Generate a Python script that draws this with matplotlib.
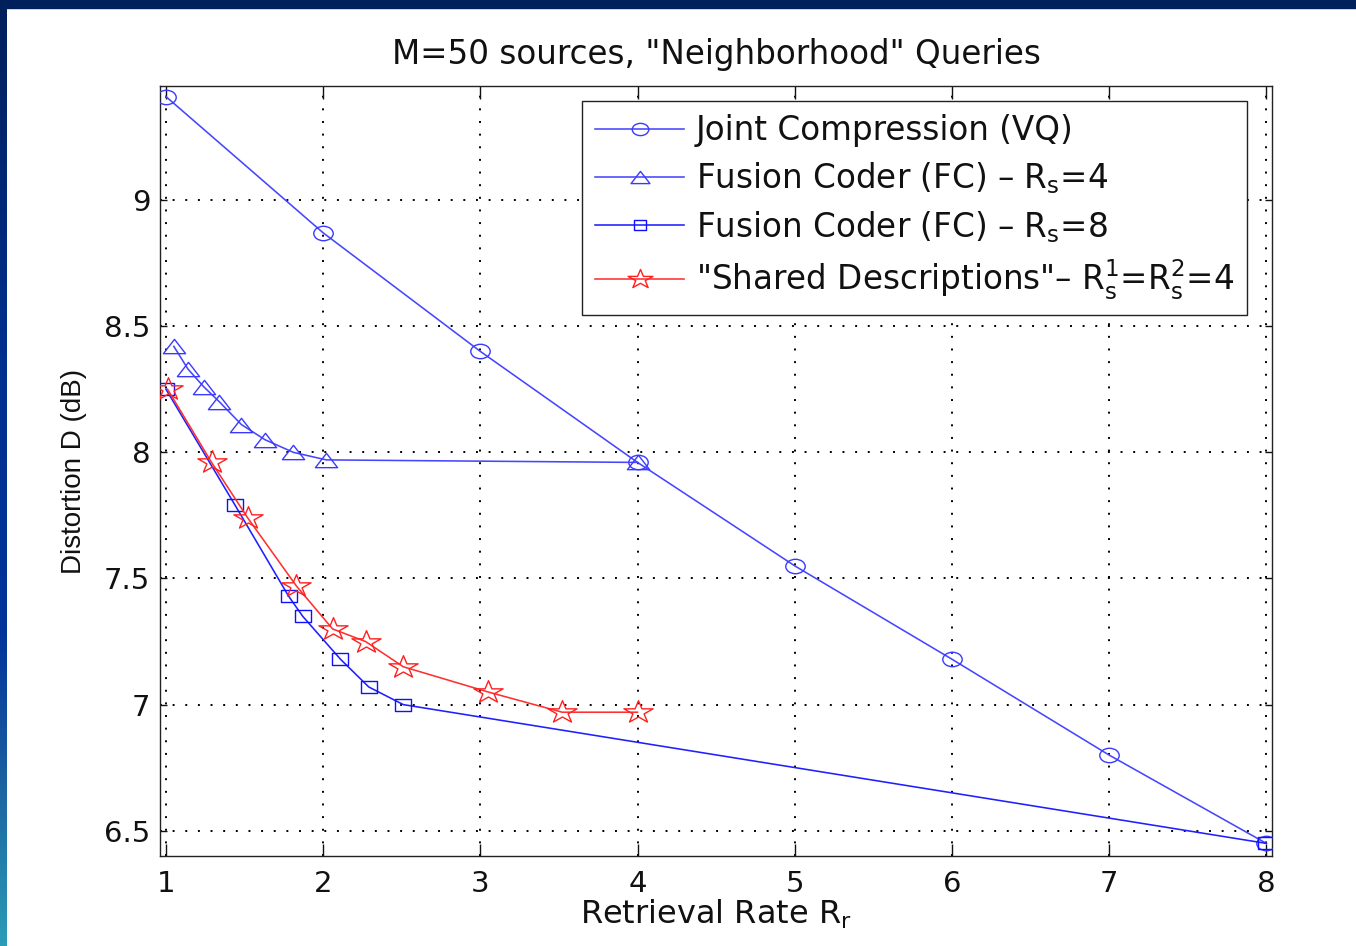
import numpy as np
import matplotlib
matplotlib.use("Agg")
import matplotlib.pyplot as plt
from matplotlib.markers import MarkerStyle
from matplotlib.transforms import Affine2D
from matplotlib.colors import LinearSegmentedColormap

# ---------------- data ----------------
vq_x = [1, 2, 3, 4, 5, 6, 7, 8]
vq_y = [9.41, 8.87, 8.40, 7.96, 7.55, 7.18, 6.80, 6.45]

fc4_x = [1.05, 1.14, 1.24, 1.34, 1.48, 1.63, 1.81, 2.02, 4.0]
fc4_y = [8.42, 8.33, 8.26, 8.20, 8.11, 8.05, 8.00, 7.97, 7.96]

fc8_x = [1.0, 1.44, 1.78, 1.87, 2.11, 2.29, 2.51, 8.0]
fc8_y = [8.25, 7.79, 7.43, 7.35, 7.18, 7.07, 7.00, 6.45]

sd_x = [1.01, 1.29, 1.52, 1.83, 2.06, 2.27, 2.51, 3.05, 3.52, 4.0]
sd_y = [8.25, 7.96, 7.74, 7.47, 7.30, 7.25, 7.15, 7.05, 6.97, 6.97]

x_ticks = [1, 2, 3, 4, 5, 6, 7, 8]
y_ticks = [6.5, 7, 7.5, 8, 8.5, 9]
y_ticklabels = ["6.5", "7", "7.5", "8", "8.5", "9"]

labels = [
    "Joint Compression (VQ)",
    "Fusion Coder (FC) \u2013 $\\mathregular{R_s}$=4",
    "Fusion Coder (FC) \u2013 $\\mathregular{R_s}$=8",
    "\"Shared Descriptions\"\u2013 $\\mathregular{R_s^1}$=$\\mathregular{R_s^2}$=4",
]
title = "M=50 sources, \"Neighborhood\" Queries"
xlabel = "Retrieval Rate $\\mathregular{R_r}$"
ylabel = "Distortion D (dB)"

# ---------------- style ----------------
plt.rcParams["font.family"] = ["DejaVu Sans"]
plt.rcParams["mathtext.fontset"] = "dejavusans"


def stretched(m, sx):
    ms = MarkerStyle(m)
    p = ms.get_path().transformed(ms.get_transform())
    return p.transformed(Affine2D().scale(sx, 1.0))


m_circle = stretched("o", 1.35)
m_tri = stretched("^", 1.55)
m_sq = stretched("s", 1.28)
m_star = stretched("*", 1.3)

fig = plt.figure(figsize=(13.56, 9.46), dpi=100, facecolor="white")

# slide border: top band and left gradient band
fig.patches.append(plt.Rectangle((0, 1 - 8 / 946), 1, 8 / 946,
                                 transform=fig.transFigure, color="#00205b", zorder=0))
bax = fig.add_axes([0, 0, 7 / 1356, 1])
cmap = LinearSegmentedColormap.from_list(
    "band", [(0.0, "#2a9cb6"), (0.18, "#1a5fa0"), (0.33, "#003399"),
             (0.6, "#003090"), (1.0, "#00205b")])
grad = np.linspace(0, 1, 256).reshape(-1, 1)
bax.imshow(grad, aspect="auto", cmap=cmap, origin="lower", extent=[0, 1, 0, 1])
bax.set_axis_off()

ax = fig.add_axes([160 / 1356, 1 - 856 / 946, 1112 / 1356, 770 / 946])

lw = 1.15
mew = 1.0
ax.plot(vq_x, vq_y, color="#4646ff", lw=lw, marker=m_circle, ms=14,
        mfc="none", mec="#3a3aff", mew=mew, label=labels[0], zorder=3)
ax.plot(fc4_x, fc4_y, color="#4646ff", lw=lw, marker=m_tri, ms=16,
        mfc="none", mec="#3a3aff", mew=mew, label=labels[1], zorder=3)
ax.plot(fc8_x, fc8_y, color="#1f1fff", lw=lw, marker=m_sq, ms=11,
        mfc="none", mec="#1010ff", mew=mew, label=labels[2], zorder=3)
ax.plot(sd_x, sd_y, color="#ff3030", lw=lw, marker=m_star, ms=21,
        mfc="none", mec="#ff2020", mew=mew, label=labels[3], zorder=4)

ax.set_xlim(0.962, 8.036)
ax.set_ylim(6.40, 9.452)
ax.set_xticks(x_ticks)
ax.set_xticklabels([str(t) for t in x_ticks])
ax.set_yticks(y_ticks)
ax.set_yticklabels(y_ticklabels)

ax.grid(True, color="black", linestyle=(0, (1, 5.5)), linewidth=1.4)
ax.set_axisbelow(True)

for s in ax.spines.values():
    s.set_linewidth(1.0)
    s.set_color("#222222")

ax.tick_params(axis="x", which="both", direction="in", top=True, bottom=True,
               length=9, width=1.0, pad=10, labelsize=21, colors="#111111")
ax.tick_params(axis="y", which="both", direction="in", left=True, right=True,
               length=5, width=1.0, pad=7, labelsize=21, colors="#111111")

ax.set_title(title, fontsize=23.5, pad=16, color="#111111")
ax.set_xlabel(xlabel, fontsize=23, labelpad=0, color="#111111")
ax.set_ylabel(ylabel, fontsize=20, labelpad=12, color="#111111",
              family=["Liberation Sans", "DejaVu Sans"])

leg = ax.legend(loc="upper right", bbox_to_anchor=(0.9775, 0.9805),
                borderaxespad=0, fontsize=23.5, frameon=True, fancybox=False,
                edgecolor="#222222", framealpha=1, handlelength=2.75,
                handletextpad=0.35, labelspacing=0.4, borderpad=0.4,
                markerscale=0.85)
leg.get_frame().set_linewidth(1.0)
for t in leg.get_texts():
    t.set_color("#111111")

fig.savefig("out.png", dpi=100, facecolor="white")
